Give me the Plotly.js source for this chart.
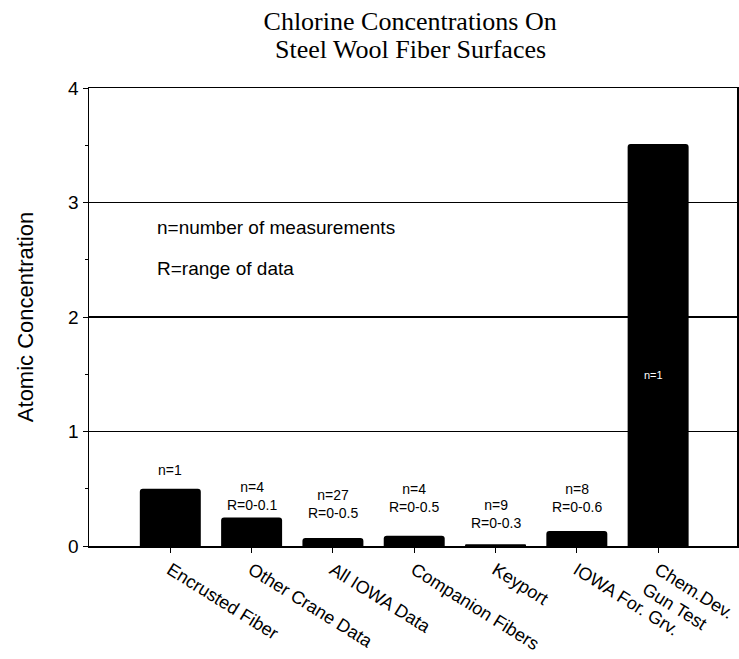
<!DOCTYPE html>
<html>
<head>
<meta charset="utf-8">
<script src="https://cdn.plot.ly/plotly-3.0.1.min.js"></script>
<style>html,body{margin:0;padding:0;background:#fff;}#chart{width:739px;height:659px;}</style>
</head>
<body>
<div id="chart"></div>
<script>
// Data
const categories = ["Encrusted Fiber", "Other Crane Data", "All IOWA Data", "Companion Fibers", "Keyport", "IOWA For. Grv.", "Chem.Dev.<br>Gun Test"];
const values = [0.50, 0.25, 0.07, 0.09, 0.015, 0.13, 3.51];
const barLabels = ["n=1", "n=4<br>R=0-0.1", "n=27<br>R=0-0.5", "n=4<br>R=0-0.5", "n=9<br>R=0-0.3", "n=8<br>R=0-0.6", "n=1"];
const labelHeights = [0.66, 0.44, 0.37, 0.415, 0.28, 0.415, 1.49];
const yTicks = [0, 1, 2, 3, 4];
const titleLines = ["Chlorine Concentrations On", "Steel Wool Fiber Surfaces"];
const noteLines = ["n=number of measurements", "R=range of data"];
const noteHeights = [2.78, 2.42];

const sans = "Arial, 'Liberation Sans', Helvetica, sans-serif";
const serif = "'Liberation Serif', 'Times New Roman', serif";

const annotations = [];
categories.forEach((c, i) => {
  const inside = i === categories.length - 1;
  annotations.push({
    x: c, y: labelHeights[i], xref: "x", yref: "y",
    text: barLabels[i], showarrow: false,
    xshift: inside ? -5 : 0,
    font: {family: sans, size: inside ? 11 : 14, color: inside ? "#fff" : "#000"},
    align: "center"
  });
});
noteLines.forEach((t, i) => {
  annotations.push({
    x: 0.102, y: noteHeights[i], xref: "paper", yref: "y",
    xanchor: "left", yanchor: "middle",
    text: t, showarrow: false,
    font: {family: sans, size: 19, color: "#000"}
  });
});
// second title line (tight line spacing as in the reference)
annotations.push({
  x: 0.555 * 739 / 648 - 89 / 648, y: 1.085, xref: "paper", yref: "paper",
  xanchor: "center", yanchor: "middle", showarrow: false,
  text: titleLines[1],
  font: {family: serif, size: 26, color: "#000"}
});

const trace = {
  type: "bar",
  x: categories,
  y: values,
  width: 0.75,
  marker: {color: "#000", line: {width: 0}, cornerradius: 3},
  hoverinfo: "none"
};

const layout = {
  width: 739, height: 659,
  margin: {l: 89, r: 2, t: 88, b: 113},
  paper_bgcolor: "#fff", plot_bgcolor: "#fff",
  showlegend: false,
  title: {
    text: titleLines[0],
    x: 0.555, xanchor: "center", xref: "container",
    y: 0.969, yanchor: "middle", yref: "container",
    font: {family: serif, size: 26, color: "#000"}
  },
  xaxis: {
    type: "category",
    range: [-1, 6.97],
    showline: true, linecolor: "#000", linewidth: 1.5, mirror: true,
    ticks: "outside", ticklen: 5, tickcolor: "#000", tickwidth: 1,
    tickangle: 32,
    tickfont: {family: sans, size: 18, color: "#000"},
    showgrid: false, zeroline: false
  },
  yaxis: {
    range: [0, 4],
    tickvals: yTicks,
    showline: true, linecolor: "#000", linewidth: 1.5, mirror: true,
    ticks: "outside", ticklen: 5, tickcolor: "#000", tickwidth: 1,
    minor: {dtick: 0.5, ticks: "outside", ticklen: 3, tickcolor: "#000", showgrid: false},
    tickfont: {family: sans, size: 19, color: "#000"},
    showgrid: true, gridcolor: "#000", gridwidth: 1.5,
    zeroline: false,
    title: {text: "Atomic Concentration", font: {family: sans, size: 22, color: "#000"}, standoff: 28}
  },
  annotations: annotations
};

Plotly.newPlot("chart", [trace], layout, {staticPlot: true, displayModeBar: false});
</script>
</body>
</html>
